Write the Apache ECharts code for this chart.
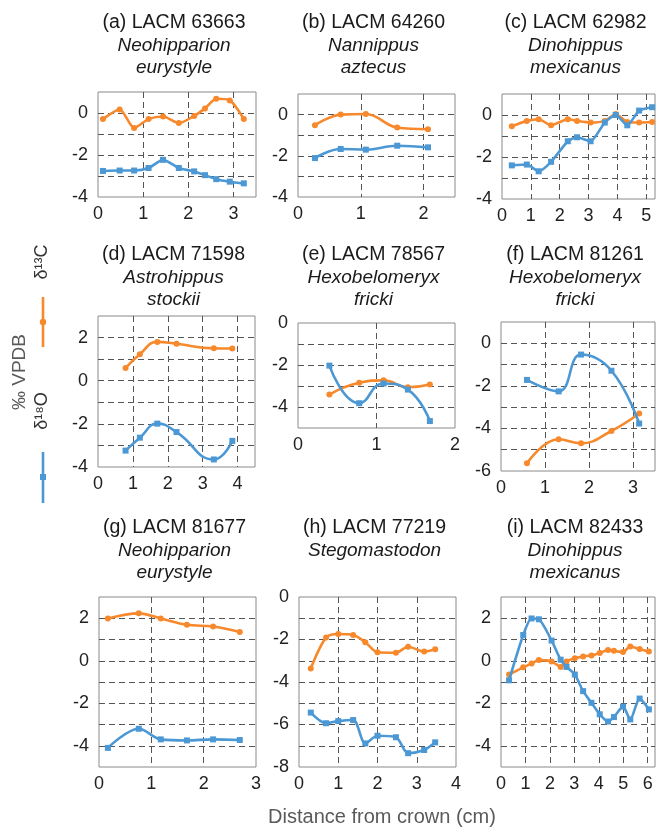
<!DOCTYPE html>
<html>
<head>
<meta charset="utf-8">
<script src="https://cdn.jsdelivr.net/npm/echarts@6/dist/echarts.min.js"></script>
<style>
  html, body { margin: 0; padding: 0; background: #fff; }
  #chart { width: 657px; height: 829px; }
</style>
</head>
<body>
<div id="chart"></div>
<script>
// distance from crown (cm) and isotope values (permil VPDB) per tooth
var distA = [0.11, 0.48, 0.80, 1.12, 1.44, 1.79, 2.13, 2.37, 2.62, 2.92, 3.23];
var carbA = [-0.29, 0.17, -0.71, -0.29, -0.17, -0.48, -0.14, 0.22, 0.68, 0.60, -0.28];
var oxyA  = [-2.76, -2.74, -2.74, -2.62, -2.23, -2.62, -2.78, -2.96, -3.15, -3.27, -3.35];

var distB = [0.27, 0.68, 1.08, 1.58, 2.07];
var carbB = [-0.52, 0.0, 0.03, -0.63, -0.71];
var oxyB  = [-2.11, -1.67, -1.70, -1.51, -1.59];

var distC = [0.34, 0.86, 1.27, 1.70, 2.28, 2.60, 3.07, 3.56, 3.94, 4.34, 4.75, 5.20];
var carbC = [-0.54, -0.28, -0.20, -0.49, -0.20, -0.28, -0.36, -0.28, 0.05, -0.33, -0.36, -0.33];
var oxyC  = [-2.40, -2.36, -2.68, -2.23, -1.25, -1.06, -1.25, -0.36, 0.0, -0.49, 0.21, 0.37];

var distD = [0.79, 1.20, 1.70, 2.25, 3.32, 3.85];
var carbD = [0.59, 1.23, 1.80, 1.71, 1.50, 1.49];
var oxyD  = [-3.24, -2.64, -1.99, -2.38, -3.65, -2.79];

var distE = [0.40, 0.78, 1.09, 1.40, 1.68];
var carbE = [-3.41, -2.85, -2.73, -3.06, -2.93];
var oxyE  = [-2.03, -3.82, -2.88, -3.17, -4.67];

var distF = [0.59, 1.31, 1.82, 2.51, 3.14];
var carbF = [-5.64, -4.51, -4.70, -4.12, -3.30];
var oxyF  = [-1.72, -2.26, -0.53, -1.29, -3.77];

var distG = [0.17, 0.76, 1.18, 1.68, 2.18, 2.69];
var carbG = [1.99, 2.23, 1.99, 1.69, 1.61, 1.35];
var oxyG  = [-4.10, -3.20, -3.70, -3.75, -3.70, -3.73];

var distH = [0.30, 0.69, 1.00, 1.38, 1.69, 2.00, 2.47, 2.78, 3.19, 3.47];
var carbH = [-3.36, -1.91, -1.74, -1.79, -2.13, -2.60, -2.62, -2.34, -2.57, -2.46];
var oxyH  = [-5.44, -5.94, -5.84, -5.79, -6.89, -6.53, -6.60, -7.35, -7.20, -6.84];

var distI = [0.33, 0.91, 1.25, 1.55, 2.07, 2.44, 2.68, 3.02, 3.36, 3.70, 4.04, 4.38, 4.62, 4.99, 5.29, 5.67, 6.05];
var carbI = [-0.65, -0.31, -0.13, 0.03, -0.03, -0.29, -0.03, 0.12, 0.20, 0.25, 0.36, 0.51, 0.47, 0.41, 0.67, 0.55, 0.44];
var oxyI  = [-0.92, 1.21, 1.99, 1.95, 0.95, 0.05, -0.29, -0.65, -1.43, -1.98, -2.52, -2.86, -2.65, -2.16, -2.76, -1.78, -2.29];

var panelLabels = ['(a) LACM 63663', '(b) LACM 64260', '(c) LACM 62982',
                   '(d) LACM 71598', '(e) LACM 78567', '(f) LACM 81261',
                   '(g) LACM 81677', '(h) LACM 77219', '(i) LACM 82433'];
var panelTaxa = [['Neohipparion', 'eurystyle'], ['Nannippus', 'aztecus'], ['Dinohippus', 'mexicanus'],
                 ['Astrohippus', 'stockii'], ['Hexobelomeryx', 'fricki'], ['Hexobelomeryx', 'fricki'],
                 ['Neohipparion', 'eurystyle'], ['Stegomastodon'], ['Dinohippus', 'mexicanus']];
var xMax = [3.5, 2.5, 5.3, 4.5, 2, 3.5, 3, 4, 6.3];
var yMin = [-4, -4, -4, -4, -5, -6, -5, -8, -5];
var yMax = [1, 1, 1, 3, 0, 1, 3, 0, 3];

var dists = [distA, distB, distC, distD, distE, distF, distG, distH, distI];
var carbs = [carbA, carbB, carbC, carbD, carbE, carbF, carbG, carbH, carbI];
var oxys  = [oxyA, oxyB, oxyC, oxyD, oxyE, oxyF, oxyG, oxyH, oxyI];

// layout (pixels)
var boxes = [
  [98, 92, 158, 105], [298, 94, 157, 103], [502, 94, 153, 105],
  [98, 316, 157, 151], [298, 323, 157, 105], [501, 322, 154, 149],
  [99, 597, 157, 170], [299, 597, 157, 170], [501, 597, 154, 170]
];
var titleY = [23, 23, 23, 255, 255, 255, 528, 528, 528];
var smooth = [0.25, 0.4, 0.2, 0.5, 0.5, 0.45, 0.35, 0.3, 0.25];

var ORANGE = '#F7892C', BLUE = '#4B98D5';
var FONT = 'Liberation Sans, Arial, sans-serif';

var grids = [], xAxes = [], yAxes = [], series = [], graphics = [];

function isInt(v) { return Math.abs(v - Math.round(v)) < 1e-6; }

for (var i = 0; i < 9; i++) {
  var b = boxes[i];
  grids.push({
    left: b[0], top: b[1], width: b[2], height: b[3],
    show: true, borderColor: '#8a8a8a', borderWidth: 1,
    containLabel: false, outerBoundsMode: 'none'
  });
  xAxes.push({
    gridIndex: i, type: 'value', min: 0, max: xMax[i], interval: 1,
    axisLine: { show: false }, axisTick: { show: false },
    axisLabel: {
      fontSize: 18, color: '#222', fontFamily: FONT, margin: 8,
      formatter: function (v) { return isInt(v) ? String(Math.round(v)) : ''; }
    },
    splitLine: { show: true, showMinLine: false, showMaxLine: false,
      lineStyle: { color: '#555', width: 1, type: [6, 4] } }
  });
  yAxes.push({
    gridIndex: i, type: 'value', min: yMin[i], max: yMax[i], interval: 1,
    axisLine: { show: false }, axisTick: { show: false },
    axisLabel: {
      fontSize: 18, color: '#222', fontFamily: FONT, margin: 10,
      formatter: function (v) { return (isInt(v) && Math.round(v) % 2 === 0) ? String(Math.round(v)) : ''; }
    },
    splitLine: { show: true, showMinLine: false, showMaxLine: false,
      lineStyle: { color: '#555', width: 1, type: [6, 4] } }
  });
  var d = dists[i];
  series.push({
    type: 'line', xAxisIndex: i, yAxisIndex: i, smooth: smooth[i],
    data: d.map(function (x, k) { return [x, carbs[i][k]]; }),
    symbol: 'circle', symbolSize: 6, showSymbol: true,
    lineStyle: { color: ORANGE, width: 2.6 }, itemStyle: { color: ORANGE },
    animation: false, z: 3
  });
  series.push({
    type: 'line', xAxisIndex: i, yAxisIndex: i, smooth: smooth[i],
    data: d.map(function (x, k) { return [x, oxys[i][k]]; }),
    symbol: 'rect', symbolSize: 6, showSymbol: true,
    lineStyle: { color: BLUE, width: 2.6 }, itemStyle: { color: BLUE },
    animation: false, z: 4
  });

  var cx = b[0] + b[2] / 2 - 3;
  graphics.push({ type: 'text', x: cx, y: titleY[i],
    style: { text: panelLabels[i], fontSize: 19.5, fontFamily: FONT, fill: '#1a1a1a', align: 'center', verticalAlign: 'middle' } });
  for (var t = 0; t < panelTaxa[i].length; t++) {
    graphics.push({ type: 'text', x: cx, y: titleY[i] + 23 + t * 22,
      style: { text: panelTaxa[i][t], fontSize: 19, fontStyle: 'italic', fontFamily: FONT, fill: '#1a1a1a', align: 'center', verticalAlign: 'middle' } });
  }
}

// shared axis titles and the key on the left
graphics.push({ type: 'text', x: 382, y: 817,
  style: { text: 'Distance from crown (cm)', fontSize: 20, fontFamily: FONT, fill: '#5a5a5a', align: 'center', verticalAlign: 'middle' } });
graphics.push({ type: 'text', x: 20, y: 372, rotation: Math.PI / 2,
  style: { text: '‰ VPDB', fontSize: 19, fontFamily: FONT, fill: '#5a5a5a', align: 'center', verticalAlign: 'middle' } });
graphics.push({ type: 'text', x: 42, y: 262, rotation: Math.PI / 2,
  style: { text: 'δ¹³C', fontSize: 18, fontFamily: FONT, fill: '#333', align: 'center', verticalAlign: 'middle' } });
graphics.push({ type: 'text', x: 42, y: 411, rotation: Math.PI / 2,
  style: { text: 'δ¹⁸O', fontSize: 18, fontFamily: FONT, fill: '#333', align: 'center', verticalAlign: 'middle' } });
graphics.push({ type: 'line', shape: { x1: 43, y1: 297, x2: 43, y2: 347 }, style: { stroke: ORANGE, lineWidth: 2.6 } });
graphics.push({ type: 'circle', shape: { cx: 43, cy: 322, r: 3.2 }, style: { fill: ORANGE } });
graphics.push({ type: 'line', shape: { x1: 43, y1: 452, x2: 43, y2: 503 }, style: { stroke: BLUE, lineWidth: 2.6 } });
graphics.push({ type: 'rect', shape: { x: 40, y: 474, width: 6, height: 6 }, style: { fill: BLUE } });

var chart = echarts.init(document.getElementById('chart'), null, { renderer: 'canvas' });
chart.setOption({
  animation: false,
  backgroundColor: '#fff',
  grid: grids,
  xAxis: xAxes,
  yAxis: yAxes,
  series: series,
  graphic: graphics
});
</script>
</body>
</html>
